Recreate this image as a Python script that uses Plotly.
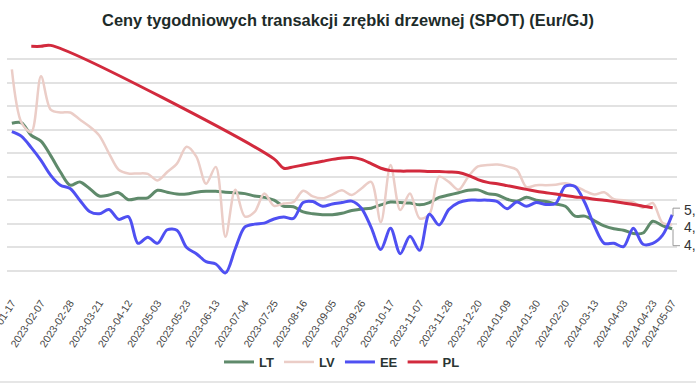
import plotly.graph_objects as go

CATEGORIES = [
    "2023-01-17", "2023-01-24", "2023-01-31", "2023-02-07", "2023-02-14", "2023-02-21",
    "2023-02-28", "2023-03-07", "2023-03-14", "2023-03-21", "2023-03-28", "2023-04-04",
    "2023-04-12", "2023-04-18", "2023-04-25", "2023-05-03", "2023-05-09", "2023-05-16",
    "2023-05-23", "2023-05-30", "2023-06-06", "2023-06-13", "2023-06-20", "2023-06-27",
    "2023-07-04", "2023-07-11", "2023-07-18", "2023-07-25", "2023-08-01", "2023-08-08",
    "2023-08-16", "2023-08-22", "2023-08-29", "2023-09-05", "2023-09-12", "2023-09-19",
    "2023-09-26", "2023-10-03", "2023-10-10", "2023-10-17", "2023-10-24", "2023-10-31",
    "2023-11-07", "2023-11-14", "2023-11-21", "2023-11-28", "2023-12-05", "2023-12-12",
    "2023-12-20", "2023-12-27", "2024-01-02", "2024-01-09", "2024-01-16", "2024-01-23",
    "2024-01-30", "2024-02-06", "2024-02-13", "2024-02-20", "2024-02-27", "2024-03-05",
    "2024-03-13", "2024-03-19", "2024-03-26", "2024-04-03", "2024-04-09", "2024-04-16",
    "2024-04-23", "2024-04-30", "2024-05-07",
]

TICK_LABELS = [
    "2023-01-17", "2023-02-07", "2023-02-28", "2023-03-21", "2023-04-12", "2023-05-03",
    "2023-05-23", "2023-06-13", "2023-07-04", "2023-07-25", "2023-08-16", "2023-09-05",
    "2023-09-26", "2023-10-17", "2023-11-07", "2023-11-28", "2023-12-20", "2024-01-09",
    "2024-01-30", "2024-02-20", "2024-03-13", "2024-04-03", "2024-04-23", "2024-05-07",
]

LT = [7.14, 7.15, 6.88, 6.76, 6.45, 6.10, 5.82, 5.89, 5.75, 5.59, 5.61, 5.66,
      5.51, 5.54, 5.55, 5.71, 5.67, 5.63, 5.63, 5.67, 5.69, 5.69, 5.67, 5.66,
      5.64, 5.59, 5.56, 5.50, 5.37, 5.36, 5.25, 5.21, 5.19, 5.19, 5.22, 5.28,
      5.31, 5.33, 5.40, 5.46, 5.45, 5.44, 5.40, 5.45, 5.56, 5.61, 5.66, 5.71,
      5.72, 5.64, 5.61, 5.52, 5.48, 5.56, 5.50, 5.47, 5.42, 5.37, 5.16, 5.16,
      5.06, 4.95, 4.89, 4.86, 4.79, 4.80, 5.05, 4.96, 4.89]

LV = [8.29, 7.15, 6.95, 8.14, 7.43, 7.37, 7.37, 7.22, 7.07, 6.88, 6.50, 6.15,
      6.07, 6.07, 6.06, 5.92, 6.10, 6.28, 6.64, 6.43, 5.85, 6.21, 4.72, 5.72,
      5.15, 5.25, 5.64, 5.38, 5.43, 5.46, 5.70, 5.58, 5.54, 5.62, 5.71, 5.61,
      5.75, 5.89, 5.03, 6.25, 5.29, 5.64, 5.11, 5.20, 6.00, 5.89, 5.72, 6.00,
      6.22, 6.25, 6.26, 6.22, 6.15, 5.78, 5.82, 5.82, 5.83, 5.86, 5.80, 5.70,
      5.62, 5.67, 5.52, 5.50, 5.46, 5.34, 5.44, 5.02, 4.98]

EE = [6.96, 6.86, 6.62, 6.35, 6.03, 5.82, 5.75, 5.50, 5.26, 5.21, 5.30, 5.09,
      5.15, 4.58, 4.71, 4.58, 4.87, 4.86, 4.49, 4.36, 4.19, 4.14, 3.95, 4.46,
      4.93, 4.99, 5.01, 5.10, 5.14, 5.11, 5.45, 5.47, 5.37, 5.42, 5.45, 5.48,
      5.33, 4.92, 4.45, 4.90, 4.36, 4.73, 4.43, 5.20, 4.97, 5.30, 5.45, 5.50,
      5.50, 5.50, 5.47, 5.32, 5.46, 5.37, 5.45, 5.41, 5.43, 5.80, 5.79, 5.45,
      4.95, 4.58, 4.58, 4.51, 4.90, 4.56, 4.58, 4.75, 5.19]

PL = [None, None, 8.78, 8.78, 8.80, None, None, None, None, None, None, None,
      None, None, None, None, None, None, None, None, None, None, None, None,
      None, None, None, 6.38, 6.18, 6.21, 6.25, 6.29, 6.33, 6.37, 6.40, 6.41,
      6.37, 6.28, 6.18, 6.13, 6.12, 6.12, 6.12, 6.11, 6.11, 6.10, 6.09, 6.03,
      5.94, 5.88, 5.85, 5.81, 5.77, 5.73, 5.69, 5.66, 5.63, 5.60, 5.57, 5.55,
      5.52, 5.50, 5.47, 5.44, 5.41, 5.37, 5.34, None, None]

END_LABELS = ["5,", "4,", "4,"]
END_LABEL_Y = [5.29, 4.93, 4.54]

SERIES = [
    ("LT", LT, "#5f8a6b", 3),
    ("LV", LV, "#ebcdc7", 2.5),
    ("EE", EE, "#4f50f2", 3),
    ("PL", PL, "#d22a3d", 3),
]

fig = go.Figure()
for name, vals, color, w in SERIES:
    fig.add_trace(go.Scatter(
        x=CATEGORIES, y=vals, name=name, mode="lines",
        line=dict(color=color, width=w, shape="spline", smoothing=0.9),
        connectgaps=True,
    ))

W, H = 696, 385
ML, MR, MT, MB = 7, 19, 36, 91
pw = W - ML - MR


def px_to_paper_x(px):
    return (px - ML) / pw


for txt, yv in zip(END_LABELS, END_LABEL_Y):
    fig.add_annotation(
        x=px_to_paper_x(682), xref="paper", y=yv, yref="y", text=txt,
        showarrow=False, xanchor="left", yanchor="middle",
        font=dict(family="Liberation Sans, Arial", size=14, color="#333333"),
    )

gray = dict(color="#9a9a9a", width=1)
fig.add_shape(type="line", xref="paper", yref="y", x0=px_to_paper_x(673), x1=px_to_paper_x(673), y0=5.16, y1=5.33, line=gray)
fig.add_shape(type="line", xref="paper", yref="y", x0=px_to_paper_x(673), x1=px_to_paper_x(680), y0=5.33, y1=5.33, line=gray)
fig.add_shape(type="line", xref="paper", yref="y", x0=px_to_paper_x(673), x1=px_to_paper_x(673), y0=4.88, y1=4.53, line=gray)
fig.add_shape(type="line", xref="paper", yref="y", x0=px_to_paper_x(673), x1=px_to_paper_x(680), y0=4.53, y1=4.53, line=gray)

ph = H - MT - MB
fig.add_shape(type="line", xref="paper", yref="paper",
              x0=px_to_paper_x(0), x1=px_to_paper_x(W), y0=(H - MB - 382) / ph, y1=(H - MB - 382) / ph,
              line=dict(color="#e6e6e6", width=2))

fig.update_layout(
    width=W, height=H,
    margin=dict(l=ML, r=MR, t=MT, b=MB),
    paper_bgcolor="white", plot_bgcolor="white",
    title=dict(
        text="Ceny tygodniowych transakcji zrębki drzewnej (SPOT) (Eur/GJ)",
        x=0.5, xanchor="center", y=1 - 20 / H, yanchor="middle",
        font=dict(family="Liberation Sans, Arial", size=16.4, color="#1d2b29", weight="bold"),
    ),
    showlegend=True,
    legend=dict(
        orientation="h", x=0.5, xanchor="center", y=(H - MB - 362) / ph, yanchor="middle",
        font=dict(family="Liberation Sans, Arial", size=13, color="#2a3533", weight="bold"),
        itemwidth=30, bgcolor="rgba(0,0,0,0)",
    ),
    xaxis=dict(
        type="category", range=[-0.5, len(CATEGORIES) - 0.5],
        tickmode="array", tickvals=TICK_LABELS, ticktext=TICK_LABELS,
        tickangle=-57, showgrid=False, zeroline=False, showline=False, ticks="",
        tickfont=dict(family="Liberation Sans, Arial", size=10.5, color="#444444"),
        automargin=False,
    ),
    yaxis=dict(
        range=[3.5, 9.0], dtick=0.5, tick0=0, showgrid=True, gridcolor="#e2e2e2", gridwidth=1.5,
        showticklabels=False, zeroline=False, showline=False, ticks="", automargin=False,
    ),
)

fig.write_html(
    "out.html",
    config={"displayModeBar": False},
    post_script="document.body.style.margin='0';document.body.style.overflow='hidden';",
)
